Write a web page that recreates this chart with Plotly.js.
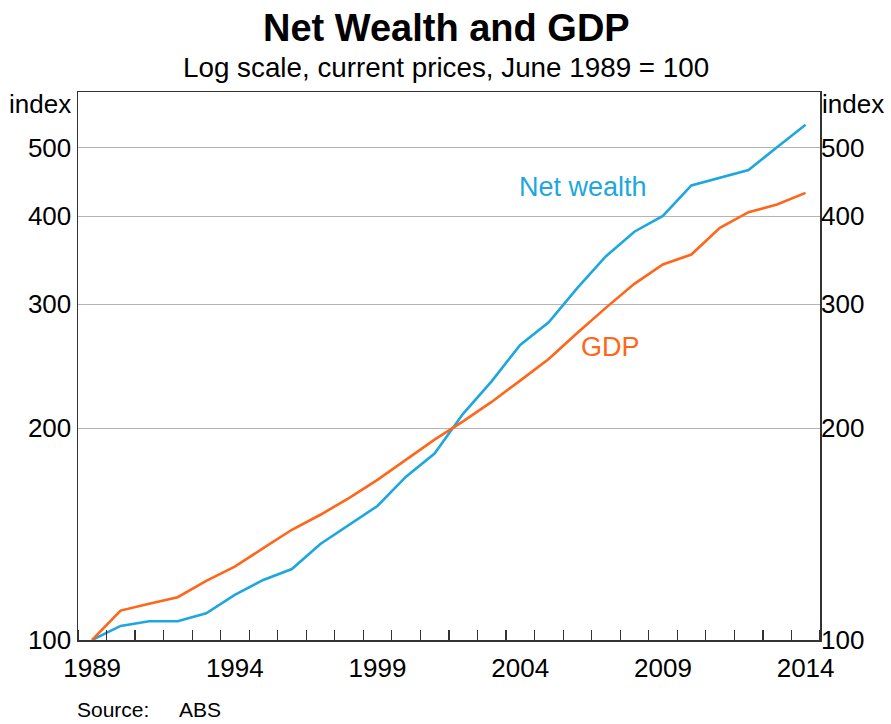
<!DOCTYPE html>
<html>
<head>
<meta charset="utf-8">
<script src="https://cdn.plot.ly/plotly-3.0.1.min.js"></script>
<style>html,body{margin:0;padding:0;background:#fff;}#chart{width:891px;height:724px;}</style>
</head>
<body>
<div id="chart"></div>
<script>
// Data (June of each year, June 1989 = 100)
const years = [1989,1990,1991,1992,1993,1994,1995,1996,1997,1998,1999,2000,2001,2002,2003,2004,2005,2006,2007,2008,2009,2010,2011,2012,2013,2014];
const netWealth = [100,104.7,106.3,106.3,109.1,115.9,121.7,126.1,136.9,145.7,155,170.6,184,209.5,233,262.4,282.5,316,350.5,380,400,442,453.3,464.8,501,539];
const gdp = [100,110.1,112.6,115.0,121.3,127.1,135.0,143.4,150.6,159.0,168.8,180.3,192.5,204.4,217.8,233.5,250.6,272.9,296.2,320.4,341.4,352.7,384.8,405.0,415.3,431.5];
const yTicks = [100,200,300,400,500];
const xLabelYears = [1989,1994,1999,2004,2009,2014];

const toDate = y => y + '-06-30';
const xDates = years.map(toDate);

const blue = '#1ea6df';
const orange = '#ff661a';
const font = 'Arial, "Liberation Sans", sans-serif';
const tickFont = {family: font, size: 26, color: '#000'};

const traces = [
  {x: xDates, y: netWealth, type: 'scatter', mode: 'lines', line: {color: blue, width: 2.6}, hoverinfo: 'none', showlegend: false},
  {x: xDates, y: gdp, type: 'scatter', mode: 'lines', line: {color: orange, width: 2.6}, hoverinfo: 'none', showlegend: false},
  {x: xDates, y: gdp, type: 'scatter', mode: 'lines', yaxis: 'y2', line: {color: 'rgba(0,0,0,0)', width: 0}, hoverinfo: 'none', showlegend: false}
];

const yRange = [2, Math.log10(600)];
const layout = {
  width: 891, height: 724,
  margin: {l: 78, r: 71, t: 92, b: 84},
  paper_bgcolor: '#fff', plot_bgcolor: '#fff',
  font: {family: font, color: '#000', size: 26},
  xaxis: {
    type: 'date',
    range: ['1989-01-01', '2015-01-01'],
    tickmode: 'array',
    tickvals: xLabelYears.map(y => y + '-07-01'),
    ticktext: xLabelYears.map(String),
    ticks: '',
    ticklabelstandoff: 4,
    showgrid: false,
    zeroline: false,
    showline: true, mirror: true, linecolor: '#333', linewidth: 1.5,
    tickfont: tickFont,
    minor: {ticks: 'inside', ticklen: 10, tickwidth: 1.2, tickcolor: '#333', dtick: 'M12', tick0: '1989-01-01', showgrid: false},
    fixedrange: true
  },
  yaxis: {
    type: 'log',
    range: yRange,
    tickmode: 'array',
    tickvals: yTicks,
    ticktext: yTicks.map(String),
    ticks: '',
    showgrid: true, gridcolor: '#b4b4b4', gridwidth: 1,
    zeroline: false,
    showline: true, mirror: true, linecolor: '#333', linewidth: 1.5,
    tickfont: tickFont,
    fixedrange: true
  },
  yaxis2: {
    type: 'log',
    range: yRange,
    overlaying: 'y',
    side: 'right',
    tickmode: 'array',
    tickvals: yTicks,
    ticktext: yTicks.map(String),
    ticks: '',
    showgrid: false, zeroline: false, showline: false,
    tickfont: tickFont,
    fixedrange: true
  },
  annotations: [
    {text: '<b>Net Wealth and GDP</b>', xref: 'paper', yref: 'paper', x: 0.4960, y: 1.1168, xanchor: 'center', yanchor: 'middle', showarrow: false, font: {family: font, size: 38, color: '#000'}},
    {text: 'Log scale, current prices, June 1989 = 100', xref: 'paper', yref: 'paper', x: 0.4960, y: 1.0438, xanchor: 'center', yanchor: 'middle', showarrow: false, font: {family: font, size: 27.8, color: '#000'}},
    {text: 'index', xref: 'paper', yref: 'paper', x: 0, y: 0.978, xanchor: 'right', yanchor: 'middle', xshift: -5, showarrow: false, font: tickFont},
    {text: 'index', xref: 'paper', yref: 'paper', x: 1, y: 0.978, xanchor: 'left', yanchor: 'middle', xshift: 0, showarrow: false, font: tickFont},
    {text: 'Net wealth', xref: 'paper', yref: 'paper', x: 0.6806, y: 0.8266, xanchor: 'center', yanchor: 'middle', showarrow: false, font: {family: font, size: 27, color: blue}},
    {text: 'GDP', xref: 'paper', yref: 'paper', x: 0.7183, y: 0.5347, xanchor: 'center', yanchor: 'middle', showarrow: false, font: {family: font, size: 27, color: orange}},
    {text: 'Source:', xref: 'paper', yref: 'paper', x: -0.004, y: -0.1277, xanchor: 'left', yanchor: 'middle', showarrow: false, font: {family: font, size: 21, color: '#000'}},
    {text: 'ABS', xref: 'paper', yref: 'paper', x: 0.1334, y: -0.1277, xanchor: 'left', yanchor: 'middle', showarrow: false, font: {family: font, size: 21, color: '#000'}}
  ]
};

Plotly.newPlot('chart', traces, layout, {staticPlot: true, displayModeBar: false});
</script>
</body>
</html>
